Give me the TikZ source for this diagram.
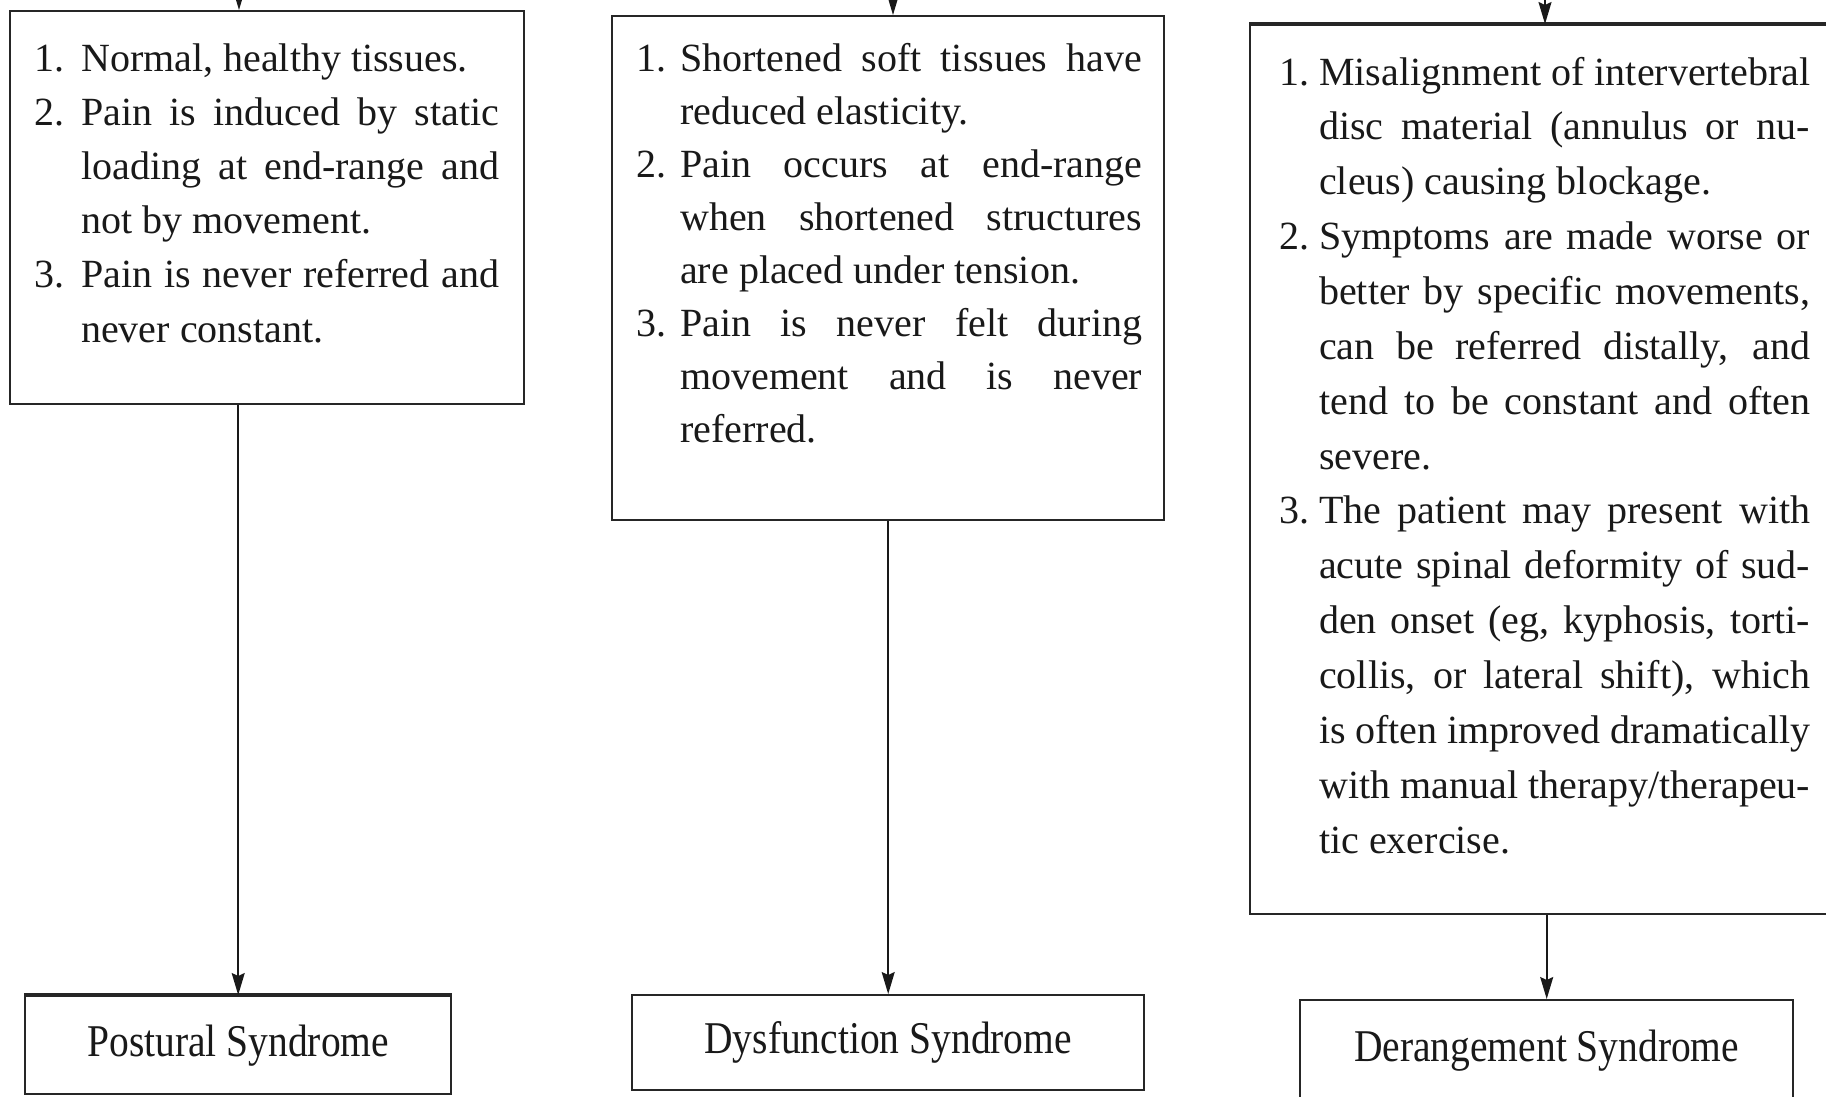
\documentclass[tikz,border=0pt]{standalone}
\usepackage{fontspec}
\setmainfont{Liberation Serif}
\usetikzlibrary{arrows.meta}
\newlength\hangw
\newlength\tw
\newcommand\itm[2]{\hbox{\makebox[\hangw][l]{#1}#2}}
\newcommand\cnt[1]{\hbox{\hskip\hangw #1}}
\newcommand\jst[1]{\makebox[\tw][s]{#1}}
\newcommand\lft[1]{\makebox[\tw][l]{#1}}
\newcommand\tall[1]{\scalebox{1}[1.15]{#1}}
\tikzset{
  box/.style={draw=black!85, line width=2.4pt, inner sep=0pt, anchor=north west},
  txt/.style={inner sep=0pt, anchor=base west, text=black!90, font=\fontsize{40}{54}\selectfont},
  lbl/.style={box, text=black!90, font=\fontsize{39.5}{48}\selectfont},
  arr/.style={draw=black!90, line width=1.6pt, -{Stealth[length=22pt,width=13pt,inset=3pt]}},
  heavy/.style={draw=black!85, line width=4pt}
}
\begin{document}
\begin{tikzpicture}[x=1pt,y=-1pt]
\useasboundingbox (0,0) rectangle (1826,1096);
\clip (0,0) rectangle (1826,1096);
\fill[white] (0,0) rectangle (1826,1096);

% upper boxes
\node[box, minimum width=514pt, minimum height=393pt] (b1) at (9,10) {};
\node[box, minimum width=552pt, minimum height=504pt] (b2) at (611,15) {};
\node[box, minimum width=591pt, minimum height=889pt] (b3) at (1249,24) {};
\draw[heavy] (b3.north west) -- (b3.north east);

% texts
\node[txt] (t1) at (34,71) {\setlength\hangw{47pt}\setlength\tw{418pt}%
\vtop{\baselineskip=54.2pt\lineskiplimit=-100pt
\itm{1.}{\lft{Normal, healthy tissues.}}
\itm{2.}{\jst{Pain is induced by static}}
\cnt{\jst{loading at end-range and}}
\cnt{\lft{not by movement.}}
\itm{3.}{\jst{Pain is never referred and}}
\cnt{\lft{never constant.}}}};

\node[txt] (t2) at (636,71) {\setlength\hangw{44pt}\setlength\tw{462pt}%
\vtop{\baselineskip=53.1pt\lineskiplimit=-100pt
\itm{1.}{\jst{Shortened soft tissues have}}
\cnt{\lft{reduced elasticity.}}
\itm{2.}{\jst{Pain occurs at end-range}}
\cnt{\jst{when shortened structures}}
\cnt{\lft{are placed under tension.}}
\itm{3.}{\jst{Pain is never felt during}}
\cnt{\jst{movement and is never}}
\cnt{\lft{referred.}}}};

\node[txt] (t3) at (1279,85) {\setlength\hangw{40pt}\setlength\tw{491pt}%
\vtop{\baselineskip=54.86pt\lineskiplimit=-100pt
\itm{1.}{\jst{Misalignment of intervertebral}}
\cnt{\jst{disc material (annulus or nu-}}
\cnt{\lft{cleus) causing blockage.}}
\itm{2.}{\jst{Symptoms are made worse or}}
\cnt{\jst{better by specific movements,}}
\cnt{\jst{can be referred distally, and}}
\cnt{\jst{tend to be constant and often}}
\cnt{\lft{severe.}}
\itm{3.}{\jst{The patient may present with}}
\cnt{\jst{acute spinal deformity of sud-}}
\cnt{\jst{den onset (eg, kyphosis, torti-}}
\cnt{\jst{collis, or lateral shift), which}}
\cnt{\jst{is often improved dramatically}}
\cnt{\jst{with manual therapy/therapeu-}}
\cnt{\lft{tic exercise.}}}};

% lower boxes
\node[lbl, minimum width=426pt, minimum height=98pt] (p1) at (24,995) {\tall{Postural Syndrome}};
\node[lbl, minimum width=512pt, minimum height=95pt] (p2) at (631,994) {\tall{Dysfunction Syndrome}};
\node[lbl, minimum width=493pt, minimum height=101pt] (p3) at (1299,999) {\tall{Derangement Syndrome}};
\draw[heavy] (p1.north west) -- (p1.north east);

% incoming arrows from above
\coordinate (in1) at (239,-80);
\coordinate (in2) at (893,-80);
\coordinate (in3) at (1545,-80);
\draw[arr] (in1) -- (in1 |- b1.north);
\draw[arr] (in2) -- (in2 |- b2.north);
\draw[arr] (in3) -- (in3 |- b3.north);

% connectors
\draw[arr] (p1.north |- b1.south) -- (p1.north);
\draw[arr] (p2.north |- b2.south) -- (p2.north);
\draw[arr] (p3.north |- b3.south) -- (p3.north);
\end{tikzpicture}
\end{document}
